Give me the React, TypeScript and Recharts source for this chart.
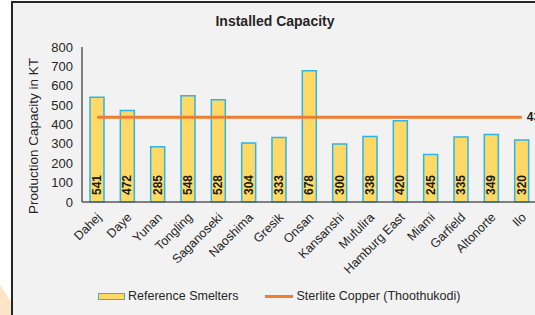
import React from 'react';
import { ComposedChart, Bar, Line, XAxis, YAxis, LabelList } from 'recharts';

const categories = ['Dahej', 'Daye', 'Yunan', 'Tongling', 'Saganoseki', 'Naoshima', 'Gresik', 'Onsan', 'Kansanshi', 'Mufulira', 'Hamburg East', 'Miami', 'Garfield', 'Altonorte', 'Ilo'];
const smelterCapacity = [541, 472, 285, 548, 528, 304, 333, 678, 300, 338, 420, 245, 335, 349, 320];
const sterliteCapacity = 438;
const yTicks = [0, 100, 200, 300, 400, 500, 600, 700, 800];

const FONT = '"Liberation Sans", Arial, sans-serif';
const BAR_FILL = '#FFD966';
const BAR_STROKE = '#2BB5E8';
const LINE_COLOR = '#ED7D31';

const data = categories.map((name, i) => ({
  name,
  smelter: smelterCapacity[i],
  sterlite: sterliteCapacity,
}));

const XTick = (props: any) => {
  const { x, y, payload } = props;
  return (
    <g transform={`translate(${x + 5},${y + 8})`}>
      <text textAnchor="end" transform="rotate(-45)" fontSize={12.5} fill="#262626" fontFamily={FONT}>
        {payload.value}
      </text>
    </g>
  );
};

const BarValue = (props: any) => {
  const { x, y, width, height, value } = props;
  const cx = x + width / 2;
  const by = y + height - 7;
  return (
    <text
      x={cx}
      y={by}
      transform={`rotate(-90, ${cx}, ${by})`}
      textAnchor="start"
      dominantBaseline="central"
      fontSize={12}
      fontWeight="bold"
      fill="#1a1a1a"
      fontFamily={FONT}
    >
      {value}
    </text>
  );
};

const LineValue = (props: any) => {
  const { x, y, index, value } = props;
  if (index !== categories.length - 1) return null;
  return (
    <text x={x + 5} y={y} dominantBaseline="central" fontSize={12} fontWeight="bold" fill="#1a1a1a" fontFamily={FONT}>
      {value}
    </text>
  );
};

export default function App() {
  return (
    <div style={{ position: 'absolute', left: 0, top: 0, width: 535, height: 315, overflow: 'hidden', background: '#fff' }}>
      <svg width={535} height={315} style={{ position: 'absolute', left: 0, top: 0 }}>
        <polygon points="0,285 12,303 12,315 0,315" fill="#FCE4C6" />
      </svg>
      <div
        style={{
          position: 'absolute',
          left: 11,
          top: 1,
          width: 600,
          height: 400,
          background: '#F2F2F2',
          border: '2px solid #262626',
        }}
      />
      <div style={{ position: 'absolute', left: 0, top: 0 }}>
        <ComposedChart width={560} height={315} data={data} margin={{ top: 47, right: 23, bottom: 33, left: 0 }} style={{ fontFamily: FONT }}>
          <text x={275} y={21} textAnchor="middle" dominantBaseline="central" fontSize={14} fontWeight="bold" fill="#262626" fontFamily={FONT}>
            Installed Capacity
          </text>
          <text
            x={33}
            y={136}
            transform="rotate(-90, 33, 136)"
            textAnchor="middle"
            dominantBaseline="central"
            fontSize={13.5}
            fill="#262626"
            fontFamily={FONT}
          >
            Production Capacity in KT
          </text>
          <XAxis
            dataKey="name"
            interval={0}
            height={80}
            tickLine={false}
            axisLine={{ stroke: '#595959', strokeWidth: 1.5 }}
            tick={<XTick />}
          />
          <YAxis
            width={82}
            domain={[0, 800]}
            ticks={yTicks}
            interval={0}
            tickLine={false}
            tickMargin={3}
            axisLine={{ stroke: '#595959', strokeWidth: 1.5 }}
            tick={{ fontSize: 13, fill: '#262626', fontFamily: FONT }}
          />
          <Bar dataKey="smelter" fill={BAR_FILL} stroke={BAR_STROKE} strokeWidth={1.5} barSize={14} isAnimationActive={false}>
            <LabelList dataKey="smelter" content={<BarValue />} />
          </Bar>
          <Line dataKey="sterlite" stroke={LINE_COLOR} strokeWidth={3} dot={false} activeDot={false} isAnimationActive={false}>
            <LabelList dataKey="sterlite" content={<LineValue />} />
          </Line>
        </ComposedChart>
      </div>
      <div
        style={{
          position: 'absolute',
          left: 98,
          top: 289,
          display: 'flex',
          alignItems: 'center',
          fontFamily: FONT,
          fontSize: 12.5,
          color: '#262626',
          whiteSpace: 'nowrap',
        }}
      >
        <span style={{ display: 'inline-block', width: 25, height: 5, background: BAR_FILL, border: `1.5px solid ${BAR_STROKE}`, marginRight: 3 }} />
        <span>Reference Smelters</span>
        <span style={{ display: 'inline-block', width: 28, height: 3, background: LINE_COLOR, marginLeft: 27, marginRight: 3 }} />
        <span>Sterlite Copper (Thoothukodi)</span>
      </div>
    </div>
  );
}
